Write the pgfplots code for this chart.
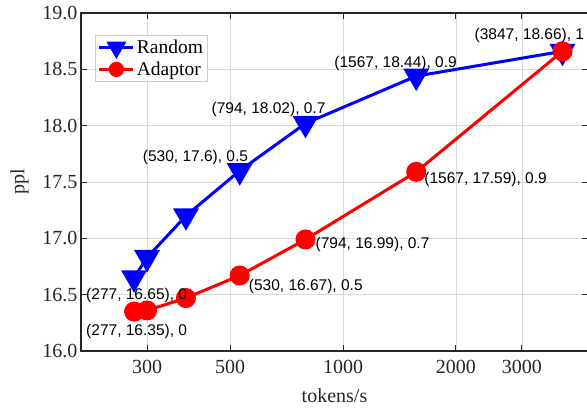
\documentclass[border=0pt]{standalone}
\usepackage{pgfplots}
\pgfplotsset{compat=1.18}
\usepackage{fontspec}
\setmainfont{Liberation Serif}
\newfontfamily\arial{Liberation Sans}

\begin{document}
\begin{tikzpicture}
\begin{axis}[
  name=ax,
  scale only axis,
  width=507pt, height=338pt,
  xmode=log,
  xmin=200, xmax=4500,
  ymin=16, ymax=19,
  xtick={300,500,1000,2000,3000},
  xticklabels={300,500,1000,2000,3000},
  xminorticks=false,
  ytick={16,16.5,...,19},
  yticklabel style={/pgf/number format/.cd, fixed, fixed zerofill, precision=1},
  /pgf/number format/assume math mode=true,
  tick label style={font=\fontsize{20}{24}\selectfont, black!85},
  xticklabel style={yshift=-6pt},
  label style={font=\fontsize{20}{24}\selectfont, black!85},
  xlabel={tokens/s}, ylabel={ppl},
  xlabel style={yshift=-8pt},
  ylabel style={yshift=7pt},
  grid=major,
  grid style={black!15, line width=0.8pt},
  axis line style={black!85, line width=1.5pt},
  tick align=inside,
  major tick length=6pt,
  tick style={black!85, line width=1pt},
  clip=false,
  legend style={at={(axis description cs:0.0276,0.935)}, anchor=north west,
    draw=black!20, line width=0.8pt, fill=white,
    font=\fontsize{19.5}{22}\selectfont, inner sep=2.5pt, row sep=3pt, cells={anchor=west}},
  legend image code/.code={\draw[mark repeat=2,mark phase=2, every mark/.append style={scale=0.72}]
    plot coordinates {(0pt,0pt)(17pt,0pt)(34pt,0pt)};},
]
\addplot[blue, line width=3pt, mark=triangle*, mark size=12pt, mark options={rotate=180, solid}]
  coordinates {(277,16.65)(300,16.83)(381,17.2)(530,17.6)(794,18.02)(1567,18.44)(3847,18.66)};
\addlegendentry{Random}
\addplot[red, line width=3pt, mark=*, mark size=8.5pt, mark options={solid}]
  coordinates {(277,16.35)(300,16.36)(381,16.47)(530,16.67)(794,16.99)(1567,17.59)(3847,18.66)};
\addlegendentry{Adaptor}

\coordinate (r1) at (axis cs:277,16.65);
\coordinate (r4) at (axis cs:530,17.6);
\coordinate (r5) at (axis cs:794,18.02);
\coordinate (r6) at (axis cs:1567,18.44);
\coordinate (r7) at (axis cs:3847,18.66);
\coordinate (a1) at (axis cs:277,16.35);
\coordinate (a4) at (axis cs:530,16.67);
\coordinate (a5) at (axis cs:794,16.99);
\coordinate (a6) at (axis cs:1567,17.59);
\end{axis}
\tikzset{lbl/.style={font=\arial\fontsize{15.5}{18}\selectfont, inner sep=0pt, anchor=base west}}
\node[lbl, xshift=-48pt, yshift=-22pt] at (r1) {(277, 16.65), 0};
\node[lbl, xshift=-97pt, yshift=9pt] at (r4) {(530, 17.6), 0.5};
\node[lbl, xshift=-94pt, yshift=10pt] at (r5) {(794, 18.02), 0.7};
\node[lbl, xshift=-82pt, yshift=9pt] at (r6) {(1567, 18.44), 0.9};
\node[lbl, xshift=-88pt, yshift=11.5pt] at (r7) {(3847, 18.66), 1};
\node[lbl, xshift=-48pt, yshift=-23.5pt] at (a1) {(277, 16.35), 0};
\node[lbl, xshift=9pt, yshift=-15pt] at (a4) {(530, 16.67), 0.5};
\node[lbl, xshift=10pt, yshift=-9.5pt] at (a5) {(794, 16.99), 0.7};
\node[lbl, xshift=8pt, yshift=-12pt] at (a6) {(1567, 17.59), 0.9};
\pgfresetboundingbox
\path ([shift={(-81pt,-59pt)}]ax.south west) rectangle ([shift={(-1pt,13pt)}]ax.north east);
\end{tikzpicture}
\end{document}
